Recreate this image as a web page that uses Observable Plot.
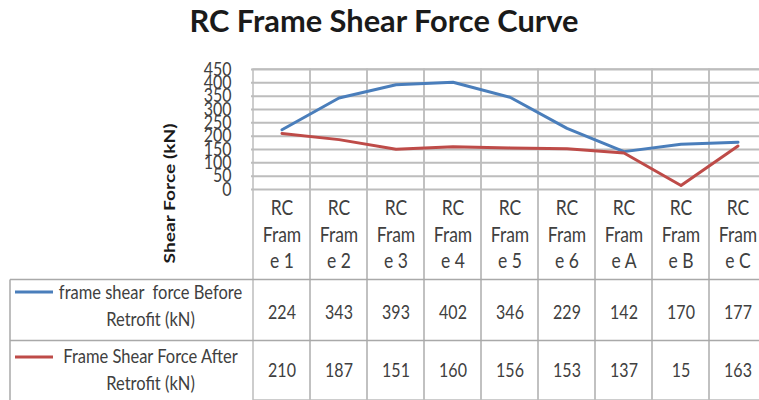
<!DOCTYPE html>
<html><head><meta charset="utf-8">
<script src="https://cdn.jsdelivr.net/npm/d3@7"></script>
<script src="https://cdn.jsdelivr.net/npm/@observablehq/plot@0.6"></script>
<style>
html,body{margin:0;padding:0;background:#fff;overflow:hidden;width:759px;height:400px;}
#title{box-sizing:border-box;height:60px;padding-top:6px;line-height:30px;font-family:Lato,sans-serif;font-weight:700;font-size:30.8px;color:#1a1a1a;text-align:center;padding-left:9px;}
#chart svg{display:block;}
</style></head><body>
<div id="title"></div>
<div id="chart"></div>
<script>
const chartTitle = "RC Frame Shear Force Curve";
const yTitle = "Shear Force (kN)";
const categories = ["RC Frame 1","RC Frame 2","RC Frame 3","RC Frame 4","RC Frame 5","RC Frame 6","RC Frame A","RC Frame B","RC Frame C"];
const categoryLabels = ["RC\nFram\ne 1","RC\nFram\ne 2","RC\nFram\ne 3","RC\nFram\ne 4","RC\nFram\ne 5","RC\nFram\ne 6","RC\nFram\ne A","RC\nFram\ne B","RC\nFram\ne C"];
const beforeRetrofit = [224,343,393,402,346,229,142,170,177];
const afterRetrofit = [210,187,151,160,156,153,137,15,163];
const seriesNames = ["frame shear  force Before\nRetrofit (kN)","Frame Shear Force After\nRetrofit (kN)"];
const seriesColors = ["#4a7ebb","#be4b48"];
const yTicks = [0,50,100,150,200,250,300,350,400,450];

document.getElementById("title").textContent = chartTitle;

const W = 759, H = 340, mL = 251, mT = 9, mB = 211;
const SY = 1.2; // vertical stretch of the reference's text
const rows = categories.map((c,i)=>({cat:c,label:categoryLabels[i],before:beforeRetrofit[i],after:afterRetrofit[i]}));
const grid = "#bdbdbd", tableLine = "#a9a9a9", txt = "#404040";
const font = "Lato, sans-serif";

const plot = Plot.plot({
  width: W, height: H,
  marginLeft: mL, marginRight: 0, marginTop: mT, marginBottom: mB,
  x: {type:"band", domain: categories, range:[mL, mL + 57.5*9], padding:0, axis:null},
  y: {domain:[0,450], axis:null},
  style: {fontFamily: font, background:"transparent", overflow:"visible"},
  marks: [
    Plot.ruleY(yTicks, {stroke: grid, strokeWidth: 2}),
    Plot.cell(categories, {x: d=>d, fill:"none", stroke: grid, strokeWidth: 1.5, insetBottom: -mB}),
    Plot.line(rows, {x:"cat", y:"before", stroke: seriesColors[0], strokeWidth: 3}),
    Plot.line(rows, {x:"cat", y:"after", stroke: seriesColors[1], strokeWidth: 3}),
    Plot.text(yTicks, {y: d=>d, text: d=>String(d), frameAnchor:"left", textAnchor:"end", lineAnchor:"middle", dx:-20, fontSize:16, fill:txt}),
    Plot.text([yTitle], {frameAnchor:"left", textAnchor:"middle", lineAnchor:"middle", rotate:-90, dx:-82, dy:64, fontSize:16, fontWeight:"bold", fill:"#1a1a1a"}),
    Plot.text(rows, {x:"cat", text:"label", frameAnchor:"bottom", textAnchor:"middle", lineAnchor:"middle", dy:44, lineHeight:26.5/SY/17.5, fontSize:17.5, fill:txt}),
    Plot.text(rows, {x:"cat", text: d=>String(d.before), frameAnchor:"bottom", textAnchor:"middle", lineAnchor:"middle", dy:123, fontSize:16, fill:txt}),
    Plot.text(rows, {x:"cat", text: d=>String(d.after), frameAnchor:"bottom", textAnchor:"middle", lineAnchor:"middle", dy:181, fontSize:16, fill:txt}),
    Plot.text([seriesNames[0]], {frameAnchor:"bottom-left", textAnchor:"middle", lineAnchor:"middle", dx:-101, dy:114.5, lineHeight:27/SY/16.5, fontSize:16.5, fill:txt}),
    Plot.text([seriesNames[1]], {frameAnchor:"bottom-left", textAnchor:"middle", lineAnchor:"middle", dx:-101, dy:178.5, lineHeight:27/SY/16.5, fontSize:16.5, fill:txt})
  ]
});
document.getElementById("chart").appendChild(plot);

function stretch(nodes, sx, sy) {
  nodes.forEach(node => {
    const t = node.getAttribute("transform");
    if (t) {
      node.setAttribute("transform", t + ` scale(${sx},${sy})`);
    } else {
      const x = parseFloat(node.getAttribute("x")) || 0;
      const y = parseFloat(node.getAttribute("y")) || 0;
      node.removeAttribute("x"); node.removeAttribute("y");
      node.setAttribute("transform", `translate(${x},${y}) scale(${sx},${sy})`);
    }
  });
}
// text mark groups in mark order: ticks, y title, labels, before, after, name0, name1
let textGroups = Array.from(plot.querySelectorAll(':scope > g[aria-label="text"]'));
if (textGroups.length !== 7) textGroups = Array.from(plot.querySelectorAll(':scope > g')).filter(g => g.querySelector("text") && !g.querySelector("path,line,rect"));
const roles = ["stretch","ytitle","stretch","stretch","stretch","stretch","stretch"];
textGroups.forEach((g, i) => {
  const texts = Array.from(g.querySelectorAll("text"));
  if (roles[i] === "ytitle") stretch(texts, SY, 1);
  else if (roles[i] === "stretch") stretch(texts, 1, SY);
});

// table decoration (borders and legend keys)
const svg = d3.select(plot);
const yBottom = H - mB;
const deco = svg.append("g");
[90.5, 151.5].forEach(off => deco.append("line").attr("x1",10).attr("x2",W).attr("y1",yBottom+off).attr("y2",yBottom+off).attr("stroke",tableLine).attr("stroke-width",1.5));
deco.append("line").attr("x1",10).attr("x2",10).attr("y1",yBottom+90.5).attr("y2",H).attr("stroke",tableLine).attr("stroke-width",1.5);
[103, 168].forEach((off,i) => deco.append("line").attr("x1",15).attr("x2",53).attr("y1",yBottom+off).attr("y2",yBottom+off).attr("stroke",seriesColors[i]).attr("stroke-width",3));
</script>
</body></html>
